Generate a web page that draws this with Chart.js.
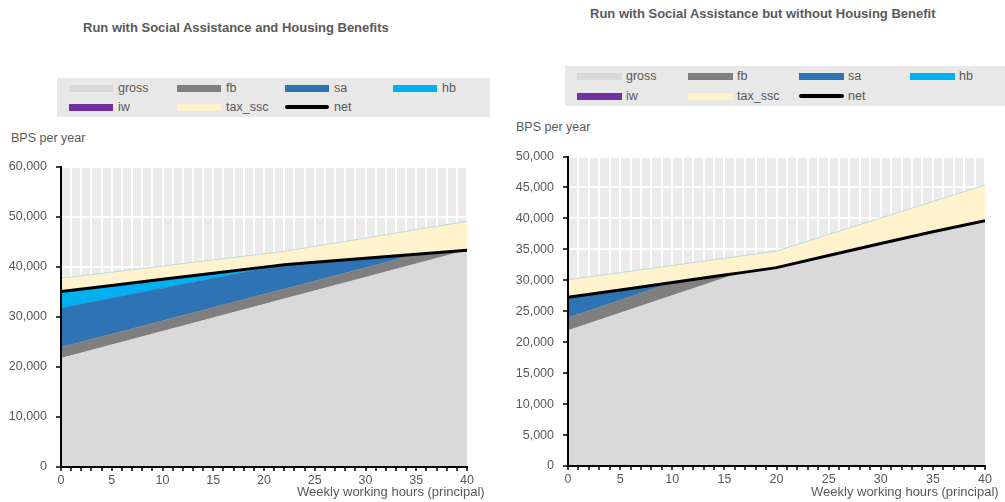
<!DOCTYPE html>
<html>
<head>
<meta charset="utf-8">
<script src="https://cdn.jsdelivr.net/npm/chart.js@4/dist/chart.umd.min.js"></script>
<style>
  body { margin: 0; width: 1005px; height: 502px; position: relative; background: #fff; overflow: hidden;
         font-family: "Liberation Sans", Arial, sans-serif; color: #595959; }
  .abs { position: absolute; white-space: nowrap; }
  .title { font-weight: bold; font-size: 13px; }
  .lbl { font-size: 12.5px; }
  .xt { font-size: 13px; }
  .legend { position: absolute; background: #e8e8e8; }
  .item { position: absolute; font-size: 12.5px; line-height: 14px; }
  .sw { position: absolute; height: 7px; }
</style>
</head>
<body>

<div class="abs title" style="left:83px; top:20px;">Run with Social Assistance and Housing Benefits</div>
<div class="abs title" style="left:590px; top:6px;">Run with Social Assistance but without Housing Benefit</div>

<div class="legend" id="legL" style="left:57px; top:78px; width:433px; height:39px;"></div>
<div class="legend" id="legR" style="left:565px; top:66px; width:440px; height:40px;"></div>

<div class="abs lbl" style="left:11px; top:131px;">BPS per year</div>
<div class="abs lbl" style="left:516px; top:120px;">BPS per year</div>

<div class="abs" style="left:0; top:150px; width:500px; height:352px;"><canvas id="chartL" width="500" height="352"></canvas></div>
<div class="abs" style="left:500px; top:140px; width:505px; height:362px;"><canvas id="chartR" width="505" height="362"></canvas></div>

<div class="abs xt" style="left:297px; top:484px;">Weekly working hours (principal)</div>
<div class="abs xt" style="left:811px; top:484px;">Weekly working hours (principal)</div>

<script>
// series names and colours
const labels = ['gross', 'fb', 'sa', 'hb', 'iw', 'tax_ssc', 'net'];
const colors = ['#d9d9d9', '#7f7f7f', '#2e74b5', '#00b0f0', '#7030a0', '#fff2cc', '#000000'];

// left panel: with social assistance and housing benefits
const hoursL = [0, 5, 10, 15, 20, 22, 25, 30, 35, 40];
const grossL = [21700, 24400, 27100, 29800, 32500, 33580, 35200, 37900, 40600, 43300];
const fbL    = [2200, 2150, 2100, 2050, 2000, 1980, 1950, 1900, 1890, 0];
const saL    = [7850, 7170, 6510, 5840, 5170, 4840, 3730, 1890, 0, 0];
const hbL    = [3300, 2540, 1770, 1010, 240, 0, 0, 0, 0, 0];
const iwL    = [0, 0, 0, 0, 0, 0, 0, 0, 0, 0];
const taxL   = [2630, 2640, 2650, 2650, 2670, 2670, 3180, 4020, 4910, 5750];
const netL   = [35050, 36260, 37480, 38700, 39910, 40400, 40880, 41690, 42490, 43300];

// right panel: social assistance but no housing benefit
const hoursR = [0, 5, 10, 15, 16.5, 20, 25, 30, 35, 40];
const grossR = [21900, 24720, 27540, 30360, 31200, 32050, 34000, 35950, 37850, 39630];
const fbR    = [2030, 2060, 2100, 480, 0, 0, 0, 0, 0, 0];
const saR    = [3310, 1660, 0, 0, 0, 0, 0, 0, 0, 0];
const hbR    = [0, 0, 0, 0, 0, 0, 0, 0, 0, 0];
const iwR    = [0, 0, 0, 0, 0, 0, 0, 0, 0, 0];
const taxR   = [2840, 2800, 2760, 2720, 2690, 2680, 3400, 4120, 4880, 5770];
const netR   = [27240, 28440, 29640, 30840, 31200, 32050, 34000, 35950, 37850, 39630];

const FONT = '"Liberation Sans", Arial, sans-serif';

// legend boxes (4 columns)
function buildLegend(id, x0, colW, y1, y2, swW, textGap) {
    const box = document.getElementById(id);
    labels.forEach((name, i) => {
        const col = i % 4, row = Math.floor(i / 4);
        const left = x0 + col * colW;
        const cy = row === 0 ? y1 : y2;
        const sw = document.createElement('div');
        sw.className = 'sw';
        sw.style.left = left + 'px';
        sw.style.width = swW + 'px';
        if (name === 'net') {
            sw.style.height = '3.5px';
            sw.style.top = (cy - 1.75) + 'px';
            sw.style.borderRadius = '2px';
        } else {
            sw.style.top = (cy - 3.5) + 'px';
        }
        sw.style.background = colors[i];
        box.appendChild(sw);
        const t = document.createElement('div');
        t.className = 'item';
        t.textContent = name;
        t.style.left = (left + swW + textGap) + 'px';
        t.style.top = (cy - 7) + 'px';
        box.appendChild(t);
    });
}
buildLegend('legL', 12, 108, 10, 29, 44, 5);
buildLegend('legR', 12, 111, 10, 30, 45, 4);

// grey plot background and axis lines on top of the areas
const plotBg = {
    id: 'plotBg',
    beforeDraw(chart) {
        const a = chart.chartArea, ctx = chart.ctx;
        ctx.save();
        ctx.fillStyle = '#ebebeb';
        ctx.fillRect(a.left, a.top, a.right - a.left, a.bottom - a.top);
        ctx.restore();
    },
    afterDatasetsDraw(chart) {
        const a = chart.chartArea, ctx = chart.ctx;
        ctx.save();
        ctx.strokeStyle = '#000';
        ctx.lineWidth = 2;
        ctx.beginPath();
        ctx.moveTo(a.left, a.top);
        ctx.lineTo(a.left, a.bottom);
        ctx.lineTo(a.right + 1, a.bottom);
        ctx.stroke();
        ctx.restore();
    }
};

function makeChart(id, hours, series, yMax, yStep, yWidth, xHeight, padRight) {
    const datasets = series.map((vals, i) => {
        const name = labels[i];
        const pts = hours.map((h, j) => ({ x: h, y: vals[j] }));
        if (name === 'net') {
            return { label: name, data: pts, stack: 'net', order: -1, fill: false,
                     borderColor: '#000', borderWidth: 3, pointRadius: 0, tension: 0 };
        }
        return {
            label: name, data: pts, stack: 'parts',
            fill: i === 0 ? 'origin' : '-1',
            backgroundColor: colors[i],
            borderColor: name === 'tax_ssc' ? '#b9dcdc' : colors[i],
            borderWidth: name === 'tax_ssc' ? 1 : 0.5,
            pointRadius: 0, tension: 0
        };
    });

    return new Chart(document.getElementById(id).getContext('2d'), {
        type: 'line',
        data: { datasets: datasets },
        options: {
            responsive: false,
            animation: false,
            layout: { padding: { top: 14, right: padRight, left: 0, bottom: 0 } },
            plugins: { legend: { display: false }, tooltip: { enabled: false } },
            scales: {
                x: {
                    type: 'linear', min: 0, max: 40,
                    border: { color: '#000', width: 2 },
                    grid: { color: '#fff', lineWidth: 2, tickColor: '#000', tickLength: 4, tickWidth: 1.5 },
                    ticks: {
                        stepSize: 1, autoSkip: false, maxRotation: 0, padding: 2,
                        color: '#595959', font: { size: 12.5, family: FONT },
                        callback: v => (v % 5 === 0 ? v : '')
                    },
                    afterFit: s => { s.height = xHeight; }
                },
                y: {
                    stacked: true, min: 0, max: yMax,
                    border: { color: '#000', width: 2 },
                    grid: { color: '#fff', lineWidth: 2, tickColor: '#000', tickLength: 5, tickWidth: 1.5 },
                    ticks: {
                        stepSize: yStep, padding: 9,
                        color: '#595959', font: { size: 12.5, family: FONT },
                        callback: v => v.toLocaleString('en-US')
                    },
                    afterFit: s => { s.width = yWidth; }
                }
            }
        },
        plugins: [plotBg]
    });
}

var chartL = makeChart('chartL', hoursL, [grossL, fbL, saL, hbL, iwL, taxL, netL], 60000, 10000, 61, 35, 33);
var chartR = makeChart('chartR', hoursR, [grossR, fbR, saR, hbR, iwR, taxR, netR], 50000, 5000, 68, 36, 20);
</script>
</body>
</html>
